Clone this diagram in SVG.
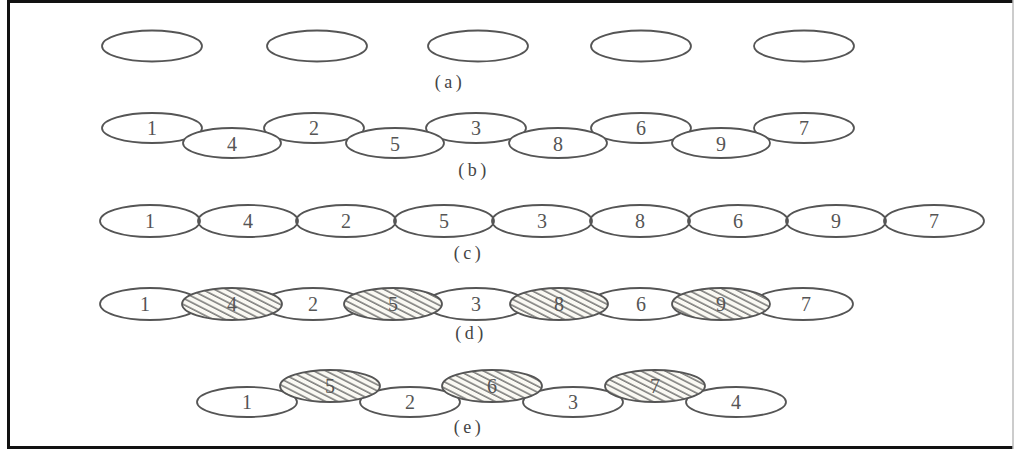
<svg xmlns="http://www.w3.org/2000/svg" width="1016" height="450" viewBox="0 0 1016 450">
<style>
.el{fill:#fff;stroke:#555;stroke-width:1.8}
.ht{fill:url(#hatch);stroke:#555;stroke-width:1.8}
.num{font-family:"Liberation Serif",serif;font-size:20px;fill:#555;text-anchor:middle;dominant-baseline:central}
.cap{font-family:"Liberation Serif",serif;font-size:18px;fill:#444;text-anchor:middle;dominant-baseline:central;letter-spacing:3.5px}
</style>
<defs>
<pattern id="hatch" patternUnits="userSpaceOnUse" width="8" height="5.5" patternTransform="rotate(27)">
<rect width="8" height="5.5" fill="#faf9f3"/>
<line x1="0" y1="1" x2="8" y2="1" stroke="#555" stroke-width="1.2"/>
</pattern>
</defs>
<rect width="1016" height="450" fill="#fff"/>
<g id="frame">
<line x1="8.5" y1="1.5" x2="1013" y2="1.5" stroke="#111" stroke-width="3"/>
<line x1="8.5" y1="0" x2="8.5" y2="449" stroke="#111" stroke-width="3"/>
<line x1="7" y1="447.5" x2="1013" y2="447.5" stroke="#111" stroke-width="3"/>
<line x1="1013" y1="0" x2="1013" y2="449" stroke="#bbb" stroke-width="1.5"/>
</g>
<g id="row-a">
<ellipse class="el" cx="152" cy="46" rx="50" ry="15.5"/>
<ellipse class="el" cx="317" cy="46" rx="50" ry="15.5"/>
<ellipse class="el" cx="478" cy="46" rx="50" ry="15.5"/>
<ellipse class="el" cx="641" cy="46" rx="50" ry="15.5"/>
<ellipse class="el" cx="804" cy="46" rx="50" ry="15.5"/>
<text class="cap" x="450" y="82">(a)</text>
</g>
<g id="row-b">
<g id="b1"><ellipse class="el" cx="152" cy="128" rx="50" ry="15"/><text class="num" x="152" y="128">1</text></g>
<g id="b2"><ellipse class="el" cx="314" cy="128" rx="50" ry="15"/><text class="num" x="314" y="128">2</text></g>
<g id="b3"><ellipse class="el" cx="476" cy="128" rx="50" ry="15"/><text class="num" x="476" y="128">3</text></g>
<g id="b6"><ellipse class="el" cx="641" cy="128" rx="50" ry="15"/><text class="num" x="641" y="128">6</text></g>
<g id="b7"><ellipse class="el" cx="804" cy="128" rx="50" ry="15"/><text class="num" x="804" y="128">7</text></g>
<g id="b4"><ellipse class="el" cx="232" cy="143" rx="49" ry="15"/><text class="num" x="232" y="144">4</text></g>
<g id="b5"><ellipse class="el" cx="395" cy="143" rx="49" ry="15"/><text class="num" x="395" y="144">5</text></g>
<g id="b8"><ellipse class="el" cx="558" cy="143" rx="49" ry="15"/><text class="num" x="558" y="144">8</text></g>
<g id="b9"><ellipse class="el" cx="721" cy="143" rx="49" ry="15"/><text class="num" x="721" y="144">9</text></g>
<text class="cap" x="474" y="170">(b)</text>
</g>
<g id="row-c">
<g id="c1"><ellipse class="el" cx="150" cy="221" rx="50" ry="16" style="fill:none"/><text class="num" x="150" y="221">1</text></g>
<g id="c4"><ellipse class="el" cx="248" cy="221" rx="50" ry="16" style="fill:none"/><text class="num" x="248" y="221">4</text></g>
<g id="c2"><ellipse class="el" cx="346" cy="221" rx="50" ry="16" style="fill:none"/><text class="num" x="346" y="221">2</text></g>
<g id="c5"><ellipse class="el" cx="444" cy="221" rx="50" ry="16" style="fill:none"/><text class="num" x="444" y="221">5</text></g>
<g id="c3"><ellipse class="el" cx="542" cy="221" rx="50" ry="16" style="fill:none"/><text class="num" x="542" y="221">3</text></g>
<g id="c8"><ellipse class="el" cx="640" cy="221" rx="50" ry="16" style="fill:none"/><text class="num" x="640" y="221">8</text></g>
<g id="c6"><ellipse class="el" cx="738" cy="221" rx="50" ry="16" style="fill:none"/><text class="num" x="738" y="221">6</text></g>
<g id="c9"><ellipse class="el" cx="836" cy="221" rx="50" ry="16" style="fill:none"/><text class="num" x="836" y="221">9</text></g>
<g id="c7"><ellipse class="el" cx="934" cy="221" rx="50" ry="16" style="fill:none"/><text class="num" x="934" y="221">7</text></g>
<text class="cap" x="469" y="253">(c)</text>
</g>
<g id="row-d">
<g id="d1"><ellipse class="el" cx="150" cy="304" rx="50" ry="16"/><text class="num" x="145" y="304">1</text></g>
<g id="d2"><ellipse class="el" cx="313" cy="304" rx="50" ry="16"/><text class="num" x="313" y="304">2</text></g>
<g id="d3"><ellipse class="el" cx="476" cy="304" rx="50" ry="16"/><text class="num" x="476" y="304">3</text></g>
<g id="d6"><ellipse class="el" cx="640" cy="304" rx="50" ry="16"/><text class="num" x="641" y="304">6</text></g>
<g id="d7"><ellipse class="el" cx="803" cy="304" rx="50" ry="16"/><text class="num" x="806" y="304">7</text></g>
<g id="d4"><ellipse class="ht" cx="232" cy="304" rx="50" ry="16"/><text class="num" x="232" y="304">4</text></g>
<g id="d5"><ellipse class="ht" cx="393" cy="304" rx="49" ry="16"/><text class="num" x="393" y="304">5</text></g>
<g id="d8"><ellipse class="ht" cx="559" cy="304" rx="49" ry="16"/><text class="num" x="559" y="304">8</text></g>
<g id="d9"><ellipse class="ht" cx="721" cy="304" rx="49" ry="16"/><text class="num" x="721" y="304">9</text></g>
<text class="cap" x="471" y="333">(d)</text>
</g>
<g id="row-e">
<g id="e1"><ellipse class="el" cx="247" cy="402" rx="50" ry="15"/><text class="num" x="247" y="402">1</text></g>
<g id="e2"><ellipse class="el" cx="410" cy="402" rx="50" ry="15"/><text class="num" x="410" y="402">2</text></g>
<g id="e3"><ellipse class="el" cx="573" cy="402" rx="50" ry="15"/><text class="num" x="573" y="402">3</text></g>
<g id="e4"><ellipse class="el" cx="736" cy="402" rx="50" ry="15"/><text class="num" x="736" y="402">4</text></g>
<g id="e5"><ellipse class="ht" cx="330" cy="386" rx="50" ry="16"/><text class="num" x="330" y="386">5</text></g>
<g id="e6"><ellipse class="ht" cx="492" cy="386" rx="50" ry="16"/><text class="num" x="492" y="386">6</text></g>
<g id="e7"><ellipse class="ht" cx="655" cy="386" rx="50" ry="16"/><text class="num" x="655" y="386">7</text></g>
<text class="cap" x="469" y="427">(e)</text>
</g>
<g id="connectors"/>
</svg>
